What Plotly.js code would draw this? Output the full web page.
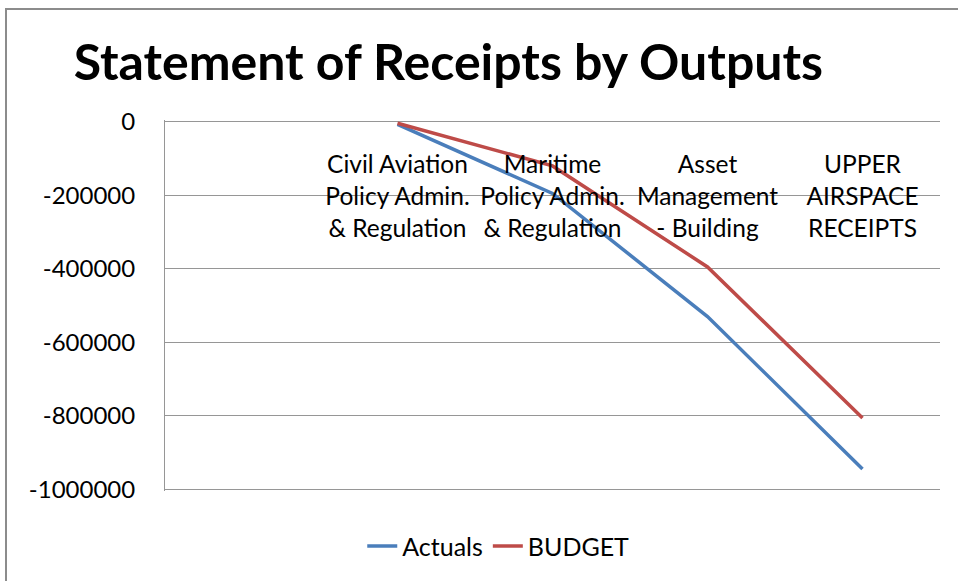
<!DOCTYPE html>
<html>
<head>
<meta charset="utf-8">
<script src="https://cdn.plot.ly/plotly-3.0.1.min.js"></script>
<style>
  html, body { margin: 0; padding: 0; background: #ffffff; }
  #wrap { position: relative; width: 958px; height: 581px; overflow: hidden; }
  #chart { position: absolute; left: 0; top: 0; width: 958px; height: 581px; }
  #frame { position: absolute; left: 5px; top: 8px; width: 1000px; height: 700px;
           border-left: 2px solid #8c8c8c; border-top: 2px solid #8c8c8c; pointer-events: none; }
</style>
</head>
<body>
<div id="wrap">
  <div id="chart"></div>
  <div id="frame"></div>
</div>
<script>
// Categories (first slot on the axis is empty in the original chart)
const categories = [
  "Civil Aviation<br>Policy Admin.<br>& Regulation",
  "Maritime<br>Policy Admin.<br>& Regulation",
  "Asset<br>Management<br>- Building",
  "UPPER<br>AIRSPACE<br>RECEIPTS"
];
const categoryPositions = [1, 2, 3, 4];

// Series values
const actuals = [-7000, -195000, -530000, -945000];
const budget  = [-4000, -120000, -395000, -806000];

// Y tick values / labels
const yTickValues = [0, -200000, -400000, -600000, -800000, -1000000];
const yTickLabels = ["0", "-200000", "-400000", "-600000", "-800000", "-1000000"];

const FONT = "Lato, 'Open Sans', sans-serif";

const traces = [
  {
    x: categoryPositions, y: actuals, name: "Actuals", type: "scatter", mode: "lines",
    line: { color: "#4a7ebb", width: 3.5 }
  },
  {
    x: categoryPositions, y: budget, name: "BUDGET", type: "scatter", mode: "lines",
    line: { color: "#be4b48", width: 3.5 }
  }
];

const layout = {
  width: 958, height: 581,
  margin: { l: 165, r: 18, t: 120, b: 87 },
  paper_bgcolor: "#ffffff", plot_bgcolor: "#ffffff",
  font: { family: FONT, color: "#000000", size: 24 },
  title: {
    text: "<b>Statement of Receipts by Outputs</b>",
    font: { family: FONT, size: 50, color: "#000000" },
    x: 0.468, xanchor: "center", y: 0.893, yanchor: "middle"
  },
  showlegend: true,
  legend: {
    orientation: "h", x: 0.43, xanchor: "center", y: -0.149, yanchor: "middle",
    font: { family: FONT, size: 25, color: "#000000" }
  },
  xaxis: {
    range: [-0.5, 4.5],
    tickmode: "array", tickvals: categoryPositions, ticktext: categories,
    anchor: "free", position: 1, side: "bottom",
    showgrid: false, zeroline: false, showline: false,
    ticks: "outside", ticklen: 23, tickcolor: "rgba(0,0,0,0)",
    tickfont: { family: FONT, size: 24.5, color: "#000000" },
    fixedrange: true
  },
  yaxis: {
    range: [-1005000, 5000],
    tickmode: "array", tickvals: yTickValues, ticktext: yTickLabels,
    showgrid: true, gridcolor: "#969696", gridwidth: 1,
    zeroline: false, showline: true, linecolor: "#969696", linewidth: 1,
    ticks: "", ticklabelstandoff: 24,
    tickfont: { family: FONT, size: 24, color: "#000000" },
    fixedrange: true
  }
};

Plotly.newPlot("chart", traces, layout, { displayModeBar: false, staticPlot: true });
</script>
</body>
</html>
